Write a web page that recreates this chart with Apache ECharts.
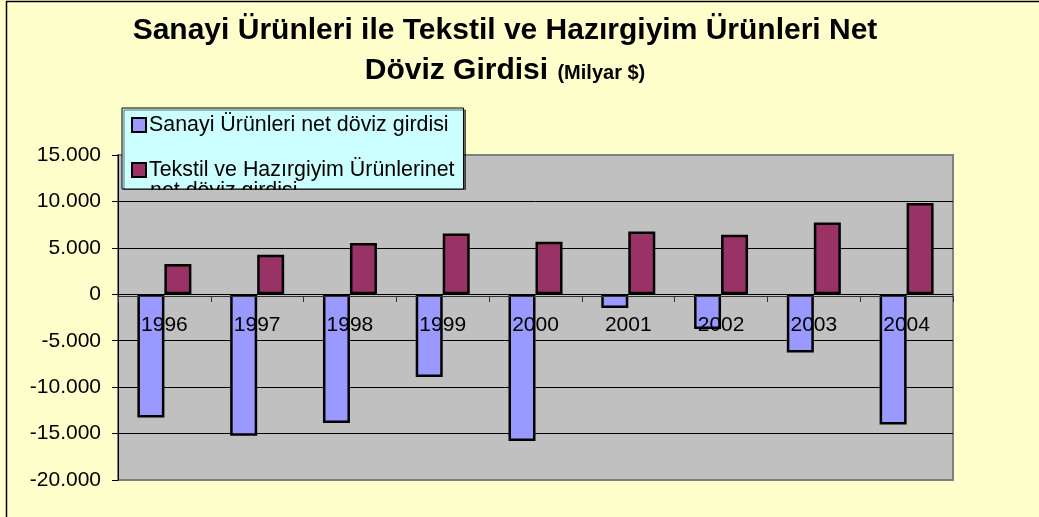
<!DOCTYPE html>
<html>
<head>
<meta charset="utf-8">
<script src="https://cdn.jsdelivr.net/npm/echarts@6/dist/echarts.min.js"></script>
<style>
html,body{margin:0;padding:0;background:#FFFFCC;}
#chart{width:1039px;height:517px;}
</style>
</head>
<body>
<div id="chart"></div>
<script>
// ---- data ----
const categories = ['1996', '1997', '1998', '1999', '2000', '2001', '2002', '2003', '2004'];
const sanayiValues = [-13270, -15240, -13870, -8920, -15810, -1490, -3750, -6270, -14020];
const tekstilValues = [3250, 4250, 5510, 6550, 5650, 6760, 6410, 7730, 9820];
const seriesNames = ['Sanayi Ürünleri net döviz girdisi', 'Tekstil ve Hazırgiyim Ürünlerinet net döviz girdisi'];
const legendLabels = ['Sanayi Ürünleri net döviz girdisi', 'Tekstil ve Hazırgiyim Ürünlerinet'];
const legendOverflowLine = 'net döviz girdisi';
const titleLine1 = 'Sanayi Ürünleri ile Tekstil ve Hazırgiyim Ürünleri Net';
const titleLine2 = 'Döviz Girdisi';
const titleUnit = '(Milyar $)';
const yTicks = {min: -20000, max: 15000, interval: 5000};

const FONT = "'Liberation Sans', Arial, sans-serif";
function fmt(v) {
  const s = Math.abs(v).toString().replace(/\B(?=(\d{3})+(?!\d))/g, '.');
  return (v < 0 ? '-' : '') + s;
}

const chart = echarts.init(document.getElementById('chart'));
chart.setOption({
  backgroundColor: '#FFFFCC',
  animation: false,
  textStyle: {fontFamily: FONT},
  title: {
    text: '{a|' + titleLine1 + '}\n{a|' + titleLine2 + ' }{b|' + titleUnit + '}',
    left: 505, top: 11, textAlign: 'center', padding: 0,
    textStyle: {
      rich: {
        a: {fontFamily: FONT, fontSize: 30, fontWeight: 'bold', color: '#000', lineHeight: 40},
        b: {fontFamily: FONT, fontSize: 20, fontWeight: 'bold', color: '#000', lineHeight: 40, verticalAlign: 'middle', padding: [5, 0, 0, 1]}
      }
    }
  },
  legend: {
    orient: 'vertical',
    left: 122, top: 108,
    padding: [6, 9, 8, 9],
    itemGap: 23,
    itemWidth: 14, itemHeight: 14,
    icon: 'rect',
    backgroundColor: '#CCFFFF',
    borderColor: '#000', borderWidth: 1,
    shadowColor: 'rgba(0,0,0,0.55)', shadowOffsetX: 2, shadowOffsetY: 2, shadowBlur: 0,
    itemStyle: {borderColor: '#000', borderWidth: 2},
    textStyle: {fontFamily: FONT, fontSize: 21.4, color: '#000', lineHeight: 22, padding: [0, 0, 0, -2]},
    formatter: function (name) { return legendLabels[seriesNames.indexOf(name)]; },
    data: seriesNames
  },
  grid: {
    left: 118, right: 86, top: 155, bottom: 37,
    show: true, backgroundColor: '#C0C0C0', borderColor: '#808080', borderWidth: 2
  },
  xAxis: {
    type: 'category',
    data: categories,
    z: 5,
    axisLine: {onZero: false, lineStyle: {color: '#333', width: 1}},
    axisTick: {show: true, length: 6, lineStyle: {color: '#333'}},
    axisLabel: {margin: 19, fontFamily: FONT, fontSize: 21, color: '#000'},
    splitLine: {show: false}
  },
  yAxis: {
    type: 'value',
    min: yTicks.min, max: yTicks.max, interval: yTicks.interval,
    axisLine: {show: true, lineStyle: {color: '#000', width: 1}},
    axisTick: {show: true, length: 6, lineStyle: {color: '#000'}},
    axisLabel: {margin: 17, fontFamily: FONT, fontSize: 21, color: '#000', formatter: fmt},
    splitLine: {show: true, lineStyle: {color: ['#808080', '#000', '#000', '#000', '#000', '#000', '#000', '#808080'], width: 1}}
  },
  series: [
    {
      name: seriesNames[0], type: 'bar', data: sanayiValues,
      barWidth: 27, barGap: '0%',
      itemStyle: {color: '#9999FF', borderColor: '#000', borderWidth: 2.5}
    },
    {
      name: seriesNames[1], type: 'bar', data: tekstilValues,
      barWidth: 27, barGap: '0%',
      itemStyle: {color: '#993366', borderColor: '#000', borderWidth: 2.5}
    }
  ],
  graphic: [
    {type: 'polyline', shape: {points: [[6.5, 517], [6.5, 1.5], [1039, 1.5]]}, style: {stroke: '#000', lineWidth: 1.5, fill: null}, z: 100},
    {type: 'text', left: 150, top: 181, z: 20,
     style: {text: legendOverflowLine, font: '21.4px ' + FONT, fill: '#000'}},
    {type: 'rect', shape: {x: 120, y: 190, width: 350, height: 11}, style: {fill: '#C0C0C0'}, z: 21}
  ]
});
// move the category axis (line, ticks, labels) onto the zero value
const zeroPx = chart.convertToPixel({yAxisIndex: 0}, 0);
const bottomPx = chart.convertToPixel({yAxisIndex: 0}, yTicks.min);
chart.setOption({xAxis: {offset: zeroPx - bottomPx}});
</script>
</body>
</html>
